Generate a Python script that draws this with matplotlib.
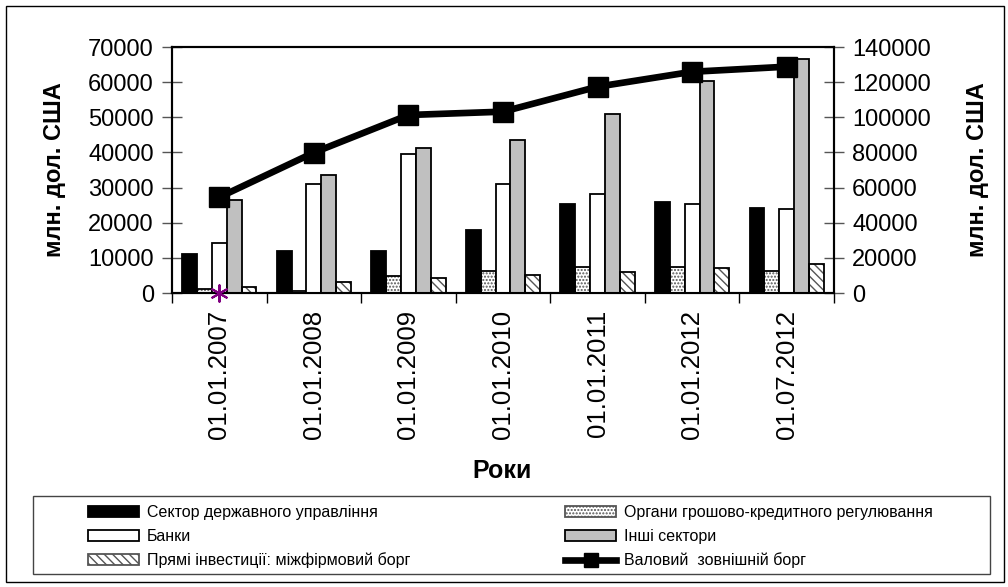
import numpy as np
import matplotlib
matplotlib.use('Agg')
import matplotlib.pyplot as plt
from matplotlib.patches import Patch, Rectangle
from matplotlib.lines import Line2D

plt.rcParams['font.family'] = ['Liberation Sans', 'DejaVu Sans']
plt.rcParams['hatch.linewidth'] = 1.0

categories = ['01.01.2007', '01.01.2008', '01.01.2009', '01.01.2010',
              '01.01.2011', '01.01.2012', '01.07.2012']
gov_sector = [11000, 12000, 12000, 17900, 25200, 26000, 24100]
monetary = [1000, 500, 4700, 6300, 7500, 7500, 6400]
banks = [14100, 31000, 39500, 30900, 28200, 25400, 23900]
other_sectors = [26600, 33600, 41200, 43500, 50900, 60400, 66500]
fdi_debt = [1800, 3100, 4300, 5100, 6000, 7200, 8200]
gross_debt = [54500, 79900, 101300, 103200, 117400, 125900, 128800]

labels = ['Сектор державного управління', 'Органи грошово-кредитного регулювання',
          'Банки', 'Інші сектори', 'Прямі інвестиції: міжфірмовий борг',
          'Валовий  зовнішній борг']

W, H = 1008, 587
fig = plt.figure(figsize=(W / 100, H / 100), dpi=100)

# outer frame and legend frame (pixel layout of the original)
fig.add_artist(Rectangle((6 / W, 1 - 582 / H), 998 / W, 576 / H, transform=fig.transFigure,
                         fill=False, edgecolor='black', lw=1.0))
fig.add_artist(Rectangle((33 / W, 1 - 574 / H), 957 / W, 78 / H, transform=fig.transFigure,
                         fill=False, edgecolor='#444444', lw=1.0))

ax = fig.add_axes([172 / W, 1 - 293 / H, (834 - 172) / W, (293 - 47) / H])
ax2 = ax.twinx()

x = np.arange(len(categories))
bw = 0.157
series = [
    (gov_sector, dict(facecolor='black', hatch=None)),
    (monetary, dict(facecolor='white', hatch='.....')),
    (banks, dict(facecolor='white', hatch=None)),
    (other_sectors, dict(facecolor='#c0c0c0', hatch=None)),
    (fdi_debt, dict(facecolor='white', hatch='\\\\\\\\')),
]
for k, (vals, st) in enumerate(series):
    pos = x + (k - 2) * bw
    if st['hatch']:
        ax.bar(pos, vals, bw, color=st['facecolor'], hatch=st['hatch'],
               edgecolor='#555555', lw=0, zorder=2)
        ax.bar(pos, vals, bw, fill=False, edgecolor='black', lw=1.3, zorder=3)
    else:
        ax.bar(pos, vals, bw, color=st['facecolor'], edgecolor='black', lw=1.3, zorder=3)

ax.set_xlim(-0.5, len(categories) - 0.5)
ax.set_ylim(0, 70000)
ax.set_yticks(np.arange(0, 70001, 10000))
ax.set_xticks(x)
ax.set_xticklabels(categories, rotation=90, fontsize=18.5)
ax.set_xticks(np.arange(-0.5, len(categories), 1), minor=True)
ax.tick_params(axis='x', which='major', length=0, pad=12)
ax.tick_params(axis='x', which='minor', length=7, width=1, direction='out')
ax.tick_params(axis='y', direction='inout', length=14, width=1, color='#555555',
               labelsize=17, pad=6)
ax.set_ylabel('млн. дол. США', fontsize=17, fontweight='bold', labelpad=16)

ax2.plot(x, gross_debt, color='black', lw=4.8, marker='s', ms=14.5, zorder=4)
ax2.scatter([x[0]], [0], marker=(6, 2, 0), s=140, color='#800080', lw=1.5,
            zorder=5, clip_on=False)
ax2.set_ylim(0, 140000)
ax2.set_yticks(np.arange(0, 140001, 20000))
ax2.tick_params(axis='y', direction='inout', length=14, width=1, color='#555555',
                labelsize=17, pad=6)
ax2.set_ylabel('млн. дол. США', fontsize=17, fontweight='bold', labelpad=25)

for a in (ax, ax2):
    for s in a.spines.values():
        s.set_linewidth(1.5)

fig.text(502 / W, 1 - 471 / H, 'Роки', fontsize=18, fontweight='bold',
         ha='center', va='center')

h_gov = Patch(facecolor='black', edgecolor='black', lw=1.3)
h_mon = Patch(facecolor='white', edgecolor='#555555', hatch='.....', lw=1.3)
h_bank = Patch(facecolor='white', edgecolor='black', lw=1.3)
h_oth = Patch(facecolor='#c0c0c0', edgecolor='black', lw=1.3)
h_fdi = Patch(facecolor='white', edgecolor='#555555', hatch='\\\\\\\\', lw=1.3)
h_line = Line2D([], [], color='black', lw=4.8, marker='s', ms=10)

common = dict(frameon=False, fontsize=11.5, handlelength=3.2, handleheight=0.7,
              handletextpad=0.5, labelspacing=0.55, borderpad=0, borderaxespad=0,
              loc='upper left')
leg1 = fig.legend([h_gov, h_bank, h_fdi], [labels[0], labels[2], labels[4]],
                  bbox_to_anchor=(88 / W, 1 - 505 / H), **common)
leg2 = fig.legend([h_mon, h_oth, h_line], [labels[1], labels[3], labels[5]],
                  bbox_to_anchor=(565 / W, 1 - 505 / H), **common)

fig.savefig('out.png', dpi=100)
